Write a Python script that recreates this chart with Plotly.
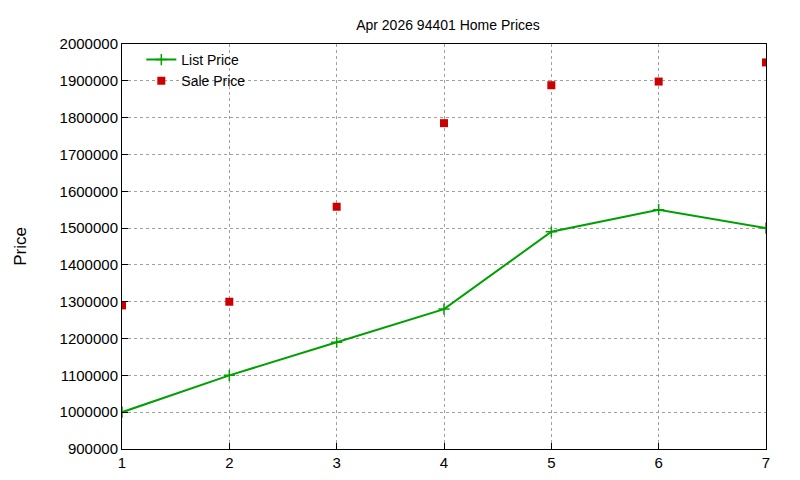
import plotly.graph_objects as go

months = [1, 2, 3, 4, 5, 6, 7]
list_price = [1000000, 1100000, 1190000, 1280000, 1490000, 1550000, 1500000]
sale_price = [1290000, 1300000, 1558000, 1785000, 1888000, 1898000, 1950000]

fig = go.Figure()
fig.add_trace(go.Scatter(x=months, y=list_price, mode="lines+markers",
                         name="List Price",
                         line=dict(color="#00a000", width=2),
                         marker=dict(symbol="cross-thin", size=8,
                                     line=dict(color="#00a000", width=1.5))))
fig.add_trace(go.Scatter(x=months, y=sale_price, mode="markers",
                         name="Sale Price",
                         marker=dict(symbol="square", size=8, color="#cc0000")))

axis = dict(showline=True, linecolor="black", linewidth=1, mirror=True,
            ticks="inside", ticklen=6, tickcolor="black",
            showgrid=True, gridcolor="#a0a0a0", griddash="dot", zeroline=False,
            tickfont=dict(size=15))
fig.update_layout(
    width=800, height=480,
    plot_bgcolor="white", paper_bgcolor="white",
    font=dict(family="Liberation Sans, Arial", size=14, color="black"),
    title=dict(text="Apr 2026 94401 Home Prices", x=0.55, y=0.975,
               xanchor="center", font=dict(size=14)),
    margin=dict(l=111, r=42, t=36, b=39),
    xaxis=dict(range=[1, 7], dtick=1, **axis),
    yaxis=dict(range=[900000, 2000000], dtick=100000, tickformat="d",
               title=dict(text="Price", standoff=28), **axis),
    legend=dict(x=0.03, y=1.0, xanchor="left", yanchor="top",
                bgcolor="rgba(0,0,0,0)", tracegroupgap=0,
                font=dict(size=14)),
)

fig.write_html("out.html")
